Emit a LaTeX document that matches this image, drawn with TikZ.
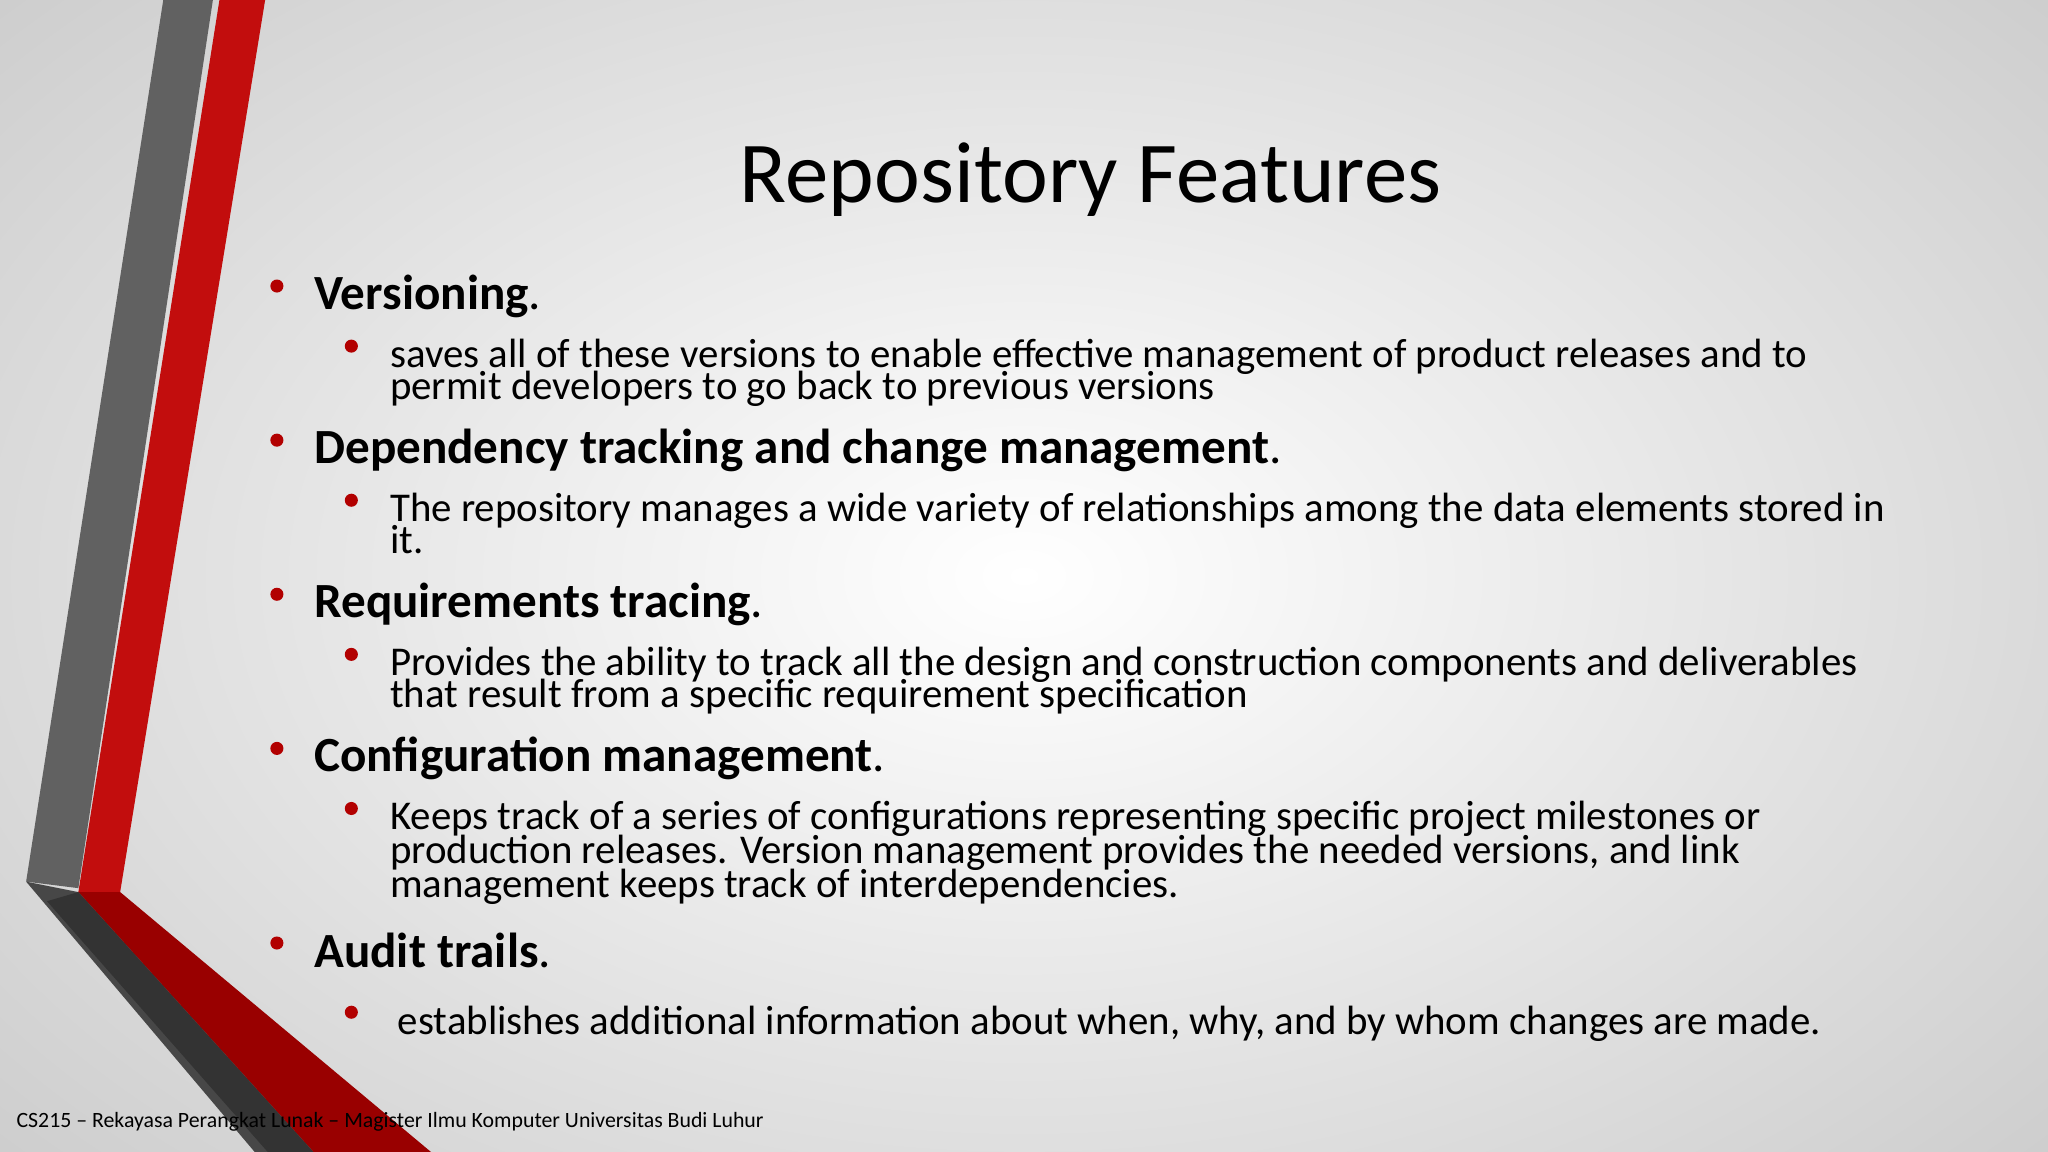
\documentclass[tikz,border=0pt]{standalone}
\usepackage{fontspec}
\setmainfont{Carlito}
\begin{document}
\begin{tikzpicture}[x=0.01cm,y=-0.01cm,
  head/.style={anchor=base west,inner sep=0,font=\fontsize{10.7}{12}\selectfont\bfseries},
  body/.style={anchor=base west,inner sep=0,font=\fontsize{8.9}{10}\selectfont},
  dot/.style={circle,fill=red!70!black,inner sep=0,minimum size=0.1cm}]
\useasboundingbox (0,0) rectangle (1568,882);
\shade[inner color=white,outer color=black!20] (-300,-250) rectangle (1868,1132);
\clip (0,0) rectangle (1568,882);
% decorations
\fill[black!62] (125,0) -- (163,0) -- (60,680) -- (20,675) -- cycle;
\fill[red!75!black!95] (168,0) -- (203,0) -- (92,683) -- (60,683) -- cycle;
\fill[black!72] (20,675) -- (60,683) -- (240,882) -- (195,882) -- cycle;
\fill[red!60!black] (60,683) -- (92,683) -- (330,882) -- (240,882) -- cycle;
\fill[black!80] (36,690) -- (60,683) -- (240,882) -- (205,882) -- cycle;
% title
\node[anchor=base,inner sep=0,font=\fontsize{18.9}{22}\selectfont] (title) at (835,155) {Repository Features};
% items
\node[dot] (b1) at (212,219) {};
\node[head] (h1) at (240,237) {Versioning\textmd{.}};
\node[dot] (s1) at (269,265) {};
\node[body] (t1a) at (298,281) {saves all of these versions to enable effective management of product releases and to};
\node[body] (t1b) at (298,306) {permit developers to go back to previous versions};
\node[dot] (b2) at (212,337) {};
\node[head] (h2) at (240,355) {Dependency tracking and change management\textmd{.}};
\node[dot] (s2) at (269,383) {};
\node[body] (t2a) at (298,399) {The repository manages a wide variety of relationships among the data elements stored in};
\node[body] (t2b) at (298,424) {it.};
\node[dot] (b3) at (212,455) {};
\node[head] (h3) at (240,473) {Requirements tracing\textmd{.}};
\node[dot] (s3) at (269,501) {};
\node[body] (t3a) at (298,517) {Provides the ability to track all the design and construction components and deliverables};
\node[body] (t3b) at (298,542) {that result from a specific requirement specification};
\node[dot] (b4) at (212,573) {};
\node[head] (h4) at (240,591) {Configuration management\textmd{.}};
\node[dot] (s4) at (269,619) {};
\node[body] (t4a) at (298,635) {Keeps track of a series of configurations representing specific project milestones or};
\node[body] (t4b) at (298,661) {production releases. Version management provides the needed versions, and link};
\node[body] (t4c) at (298,687) {management keeps track of interdependencies.};
\node[dot] (b5) at (212,722) {};
\node[head] (h5) at (240,741) {Audit trails\textmd{.}};
\node[dot] (s5) at (269,775) {};
\node[body] (t5a) at (304,792) {establishes additional information about when, why, and by whom changes are made.};
\node[anchor=base west,inner sep=0,font=\fontsize{4.75}{5}\selectfont] (foot) at (12,863) {CS215 -- Rekayasa Perangkat Lunak -- Magister Ilmu Komputer Universitas Budi Luhur};
\end{tikzpicture}
\end{document}
